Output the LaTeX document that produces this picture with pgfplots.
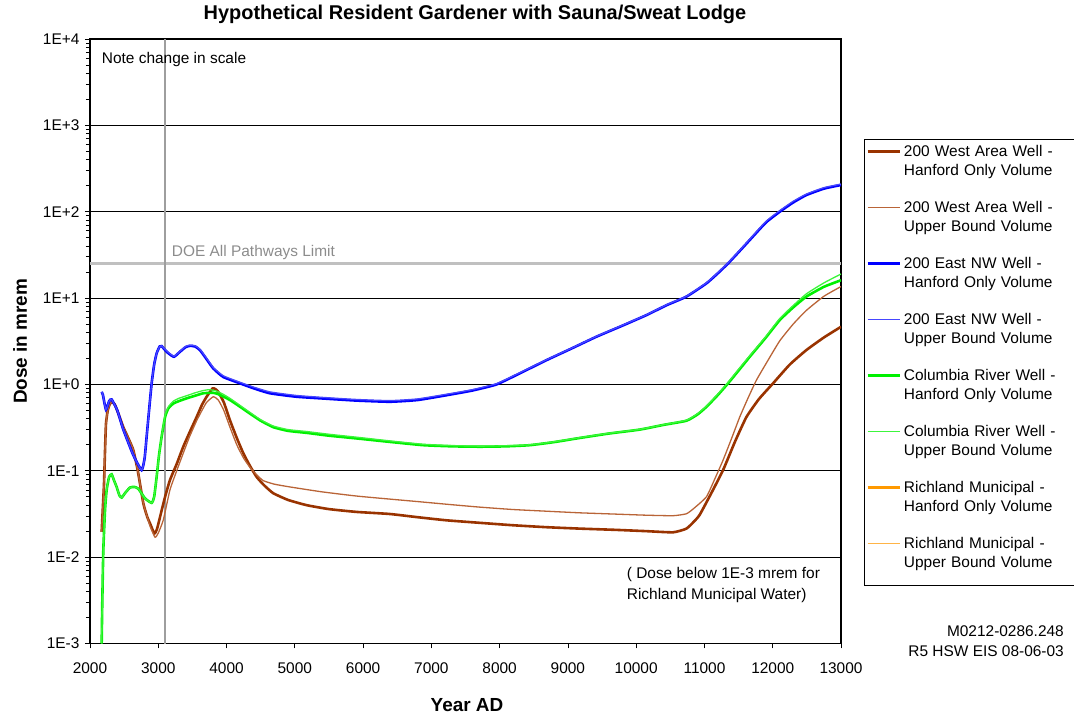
\documentclass[border=0pt]{standalone}
\usepackage{fontspec}
\setmainfont{Liberation Sans}
\usepackage{pgfplots}
\pgfplotsset{compat=1.18}

\definecolor{brownA}{RGB}{153,51,0}
\definecolor{brownB}{RGB}{185,100,55}
\definecolor{blueA}{RGB}{0,0,255}
\definecolor{blueB}{RGB}{70,70,255}
\definecolor{greenA}{RGB}{0,240,0}
\definecolor{greenB}{RGB}{60,245,60}
\definecolor{orangeA}{RGB}{255,153,0}
\definecolor{orangeB}{RGB}{255,180,70}
\definecolor{limitgray}{RGB}{192,192,192}

\newcommand{\fs}{\fontsize{15.5}{19.3}\selectfont}

\begin{document}
\begin{tikzpicture}
\begin{axis}[
  scale only axis,
  width=751bp, height=604.5bp,
  ymode=log,
  xmin=2000, xmax=13000,
  ymin=1e-3, ymax=1e4,
  xtick={2000,3000,...,13000},
  scaled x ticks=false,
  ytick={1e-3,1e-2,1e-1,1,10,100,1000,10000},
  yticklabels={1E-3,1E-2,1E-1,1E+0,1E+1,1E+2,1E+3,1E+4},
  /pgf/number format/1000 sep={},
  /pgf/number format/assume math mode=true,
  tick align=outside,
  major tick length=5bp,
  minor tick length=4bp,
  xtick pos=bottom, ytick pos=left,
  tick style={black, line width=0.8bp},
  ymajorgrids,
  major grid style={black, line width=0.9bp},
  axis line style={black, line width=1.3bp},
  tick label style={font=\fs},
  xticklabel style={yshift=-11bp},
  yticklabel style={xshift=-2bp},
  every axis plot/.append style={smooth, tension=0.3},
  title={Hypothetical Resident Gardener with Sauna/Sweat Lodge},
  title style={font=\fontsize{20}{24}\selectfont\bfseries, at={(axis description cs:0.5126,1)}, anchor=base, yshift=13.5bp},
  xlabel={Year AD},
  xlabel style={font=\fontsize{19}{23}\selectfont\bfseries, at={(axis description cs:0.502,0)}, anchor=base, yshift=-67.5bp},
  ylabel={Dose in mrem},
  ylabel style={font=\fontsize{19}{23}\selectfont\bfseries, at={(axis description cs:-0.0839,0.5)}, anchor=base},
  legend cell align=left,
  legend image code/.code={\draw[#1] (0bp,5bp) -- (32bp,5bp);},
  legend style={
    at={(axis description cs:1.0306,0.8346)}, anchor=north west,
    font=\fs, draw=black, line width=0.8bp,
    cells={anchor=base west},
    nodes={align=left, inner sep=0pt, text width=185bp, text height=11.5bp, text depth=44.5bp},
    inner xsep=2bp, inner ysep=5.4bp,
    column sep=3bp,
  },
]
% reference lines
\addplot[limitgray, line width=2.6bp, forget plot, sharp plot] coordinates {(2000,25) (13000,25)};
\addplot[black!38, line width=1.3bp, forget plot, sharp plot] coordinates {(3100,1e-3) (3100,1e4)};

% 200 West Area Well - Hanford Only Volume
\addplot[brownA, line width=2.6bp] coordinates {
(2171,0.0196) (2190,0.04) (2205,0.07) (2220,0.17) (2234,0.35) (2260,0.50) (2293,0.60)
(2330,0.62) (2366,0.58) (2420,0.45) (2488,0.32) (2560,0.24) (2634,0.174) (2700,0.10)
(2781,0.042) (2840,0.029) (2878,0.0247) (2942,0.0188) (2980,0.021) (3025,0.029)
(3100,0.05) (3171,0.078) (3270,0.12) (3366,0.19) (3460,0.28) (3562,0.42) (3640,0.58)
(3708,0.72) (3796,0.90) (3840,0.88) (3879,0.82) (3960,0.62) (4050,0.385) (4150,0.24)
(4245,0.16) (4340,0.115) (4440,0.085) (4550,0.068) (4684,0.055) (4900,0.046)
(5172,0.040) (5500,0.036) (5904,0.0334) (6392,0.0316) (6800,0.029) (7222,0.0267)
(7700,0.025) (8198,0.0234) (8700,0.0222) (9174,0.0214) (9700,0.0207) (10150,0.020)
(10540,0.0194) (10736,0.0214) (10850,0.026) (10931,0.031) (11100,0.055) (11273,0.102)
(11450,0.22) (11615,0.42) (11800,0.68) (12005,1.03) (12250,1.7) (12493,2.5)
(12750,3.5) (13000,4.65)
};
\addlegendentry{200 West Area Well -\\Hanford Only Volume}

% 200 West Area Well - Upper Bound Volume
\addplot[brownB, line width=1.3bp] coordinates {
(2171,0.0196) (2190,0.04) (2205,0.07) (2220,0.17) (2234,0.35) (2260,0.50) (2293,0.60)
(2330,0.62) (2366,0.58) (2420,0.45) (2488,0.32) (2560,0.24) (2634,0.174) (2700,0.10)
(2781,0.042) (2840,0.029) (2878,0.023) (2952,0.017) (3000,0.019) (3074,0.027)
(3171,0.06) (3270,0.10) (3366,0.16) (3460,0.25) (3562,0.38) (3640,0.50) (3708,0.62)
(3806,0.72) (3879,0.66) (3960,0.50) (4050,0.32) (4150,0.20) (4250,0.14) (4342,0.11)
(4440,0.09) (4537,0.077) (4700,0.070) (4928,0.065) (5400,0.057) (5904,0.051)
(6392,0.047) (6800,0.044) (7222,0.041) (7700,0.038) (8198,0.0356) (8700,0.034)
(9174,0.0326) (9700,0.0315) (10150,0.0306) (10540,0.0302) (10736,0.0318) (10850,0.037)
(11029,0.05) (11150,0.08) (11273,0.133) (11400,0.24) (11517,0.42) (11640,0.70)
(11761,1.12) (11930,1.9) (12103,3.2) (12300,5.0) (12493,7.2) (12750,10.5) (13000,13.6)
};
\addlegendentry{200 West Area Well -\\Upper Bound Volume}

% 200 East NW Well - Hanford Only Volume
\addplot[blueA, line width=2.6bp] coordinates {
(2171,0.82) (2190,0.75) (2234,0.51) (2280,0.64) (2317,0.67) (2400,0.50) (2488,0.30)
(2634,0.152) (2756,0.102) (2800,0.14) (2830,0.25) (2870,0.55) (2903,1.03) (2940,1.7)
(2976,2.29) (3020,2.75) (3049,2.78) (3100,2.5) (3147,2.3) (3230,2.09) (3318,2.39)
(3400,2.7) (3464,2.8) (3540,2.75) (3610,2.5) (3700,2.0) (3806,1.53) (3952,1.22)
(4196,1.03) (4400,0.90) (4635,0.79) (5026,0.72) (5500,0.68) (5904,0.65) (6392,0.63)
(6800,0.66) (7222,0.75) (7600,0.85) (7954,1.0) (8300,1.35) (8686,1.91) (9050,2.6)
(9418,3.57) (9800,4.8) (10150,6.35) (10450,8.3) (10736,10.4) (11029,14.8) (11200,19.5)
(11346,25.2) (11500,34) (11663,47) (11900,75) (12103,100) (12300,128) (12493,156)
(12750,185) (13000,204)
};
\addlegendentry{200 East NW Well -\\Hanford Only Volume}

% 200 East NW Well - Upper Bound Volume
\addplot[blueB, line width=1.3bp] coordinates {
(2171,0.82) (2190,0.75) (2234,0.51) (2280,0.64) (2317,0.67) (2400,0.50) (2488,0.30)
(2634,0.152) (2756,0.102) (2800,0.14) (2830,0.25) (2870,0.55) (2903,1.03) (2940,1.7)
(2976,2.29) (3020,2.75) (3049,2.8) (3100,2.55) (3147,2.35) (3230,2.12) (3318,2.42)
(3400,2.75) (3464,2.85) (3540,2.8) (3610,2.55) (3700,2.05) (3806,1.57) (3952,1.26)
(4196,1.06) (4400,0.93) (4635,0.82) (5026,0.745) (5500,0.70) (5904,0.67) (6392,0.65)
(6800,0.68) (7222,0.77) (7600,0.87) (7954,1.02) (8300,1.37) (8686,1.93) (9050,2.62)
(9418,3.6) (9800,4.85) (10150,6.4) (10450,8.4) (10736,10.5) (11029,15.0) (11200,19.8)
(11346,25.6) (11500,34.5) (11663,48) (11900,77) (12103,103) (12300,132) (12493,160)
(12750,190) (13000,209)
};
\addlegendentry{200 East NW Well -\\Upper Bound Volume}

% Columbia River Well - Hanford Only Volume
\addplot[greenA, line width=2.6bp] coordinates {
(2171,0.001) (2180,0.003) (2195,0.012) (2220,0.035) (2244,0.06) (2280,0.085)
(2317,0.091) (2350,0.078) (2390,0.065) (2430,0.052) (2464,0.049) (2520,0.056)
(2586,0.064) (2650,0.065) (2708,0.062) (2805,0.048) (2903,0.0425) (2940,0.05)
(2976,0.085) (3010,0.15) (3049,0.247) (3100,0.42) (3147,0.527) (3220,0.60)
(3300,0.64) (3415,0.69) (3540,0.74) (3659,0.79) (3806,0.80) (3900,0.76) (4050,0.66)
(4200,0.55) (4342,0.46) (4500,0.38) (4684,0.32) (4900,0.29) (5172,0.275) (5500,0.255)
(5904,0.237) (6392,0.216) (6880,0.198) (7300,0.192) (7710,0.19) (8100,0.192)
(8442,0.198) (8800,0.215) (9174,0.24) (9600,0.27) (10053,0.30) (10400,0.34)
(10736,0.38) (10900,0.45) (11029,0.55) (11200,0.76) (11346,1.03) (11500,1.45)
(11663,2.09) (11900,3.5) (12103,5.56) (12300,7.8) (12493,10.4) (12750,13.5) (13000,16.1)
};
\addlegendentry{Columbia River Well -\\Hanford Only Volume}

% Columbia River Well - Upper Bound Volume
\addplot[greenB, line width=1.3bp] coordinates {
(2171,0.001) (2180,0.003) (2195,0.012) (2220,0.035) (2244,0.06) (2280,0.085)
(2317,0.091) (2350,0.078) (2390,0.065) (2430,0.052) (2464,0.049) (2520,0.056)
(2586,0.064) (2650,0.065) (2708,0.062) (2805,0.048) (2903,0.0425) (2940,0.05)
(2976,0.085) (3010,0.15) (3049,0.25) (3100,0.44) (3147,0.55) (3220,0.64)
(3300,0.69) (3415,0.74) (3540,0.80) (3659,0.85) (3750,0.87) (3850,0.84) (3950,0.77)
(4050,0.69) (4200,0.57) (4342,0.475) (4500,0.39) (4684,0.33) (4900,0.30) (5172,0.285)
(5500,0.265) (5904,0.245) (6392,0.222) (6880,0.203) (7300,0.196) (7710,0.193)
(8100,0.195) (8442,0.2) (8800,0.217) (9174,0.242) (9600,0.272) (10053,0.302)
(10400,0.342) (10736,0.385) (10900,0.46) (11029,0.56) (11200,0.78) (11346,1.06)
(11500,1.5) (11663,2.15) (11900,3.6) (12103,5.8) (12300,8.2) (12493,11.2) (12750,15)
(13000,19)
};
\addlegendentry{Columbia River Well -\\Upper Bound Volume}

% Richland Municipal: dose below the axis range
\addlegendimage{orangeA, line width=2.6bp}
\addlegendentry{Richland Municipal -\\Hanford Only Volume}
\addlegendimage{orangeB, line width=1.3bp}
\addlegendentry[text depth=31.5bp]{Richland Municipal -\\Upper Bound Volume}

\node[anchor=west, font=\fs, inner sep=0pt] at (axis description cs:0.0156,0.9653) {Note change in scale};
\node[anchor=west, font=\fs, text=black!45, inner sep=0pt] at (axis description cs:0.1088,0.646) {DOE All Pathways Limit};
\node[anchor=north west, align=left, font=\fontsize{15.5}{21.7}\selectfont, inner sep=0pt] at (axis description cs:0.7146,0.1266) {( Dose below 1E-3 mrem for\\Richland Municipal Water)};
\end{axis}
\node[anchor=north east, align=right, font=\fontsize{15.5}{20}\selectfont, inner sep=0pt] at (974bp,17.5bp) {M0212-0286.248\\R5 HSW EIS 08-06-03};
\pgfresetboundingbox
\path[use as bounding box] (-90bp,-73.5bp) rectangle (984bp,643.5bp);
\end{tikzpicture}
\end{document}
